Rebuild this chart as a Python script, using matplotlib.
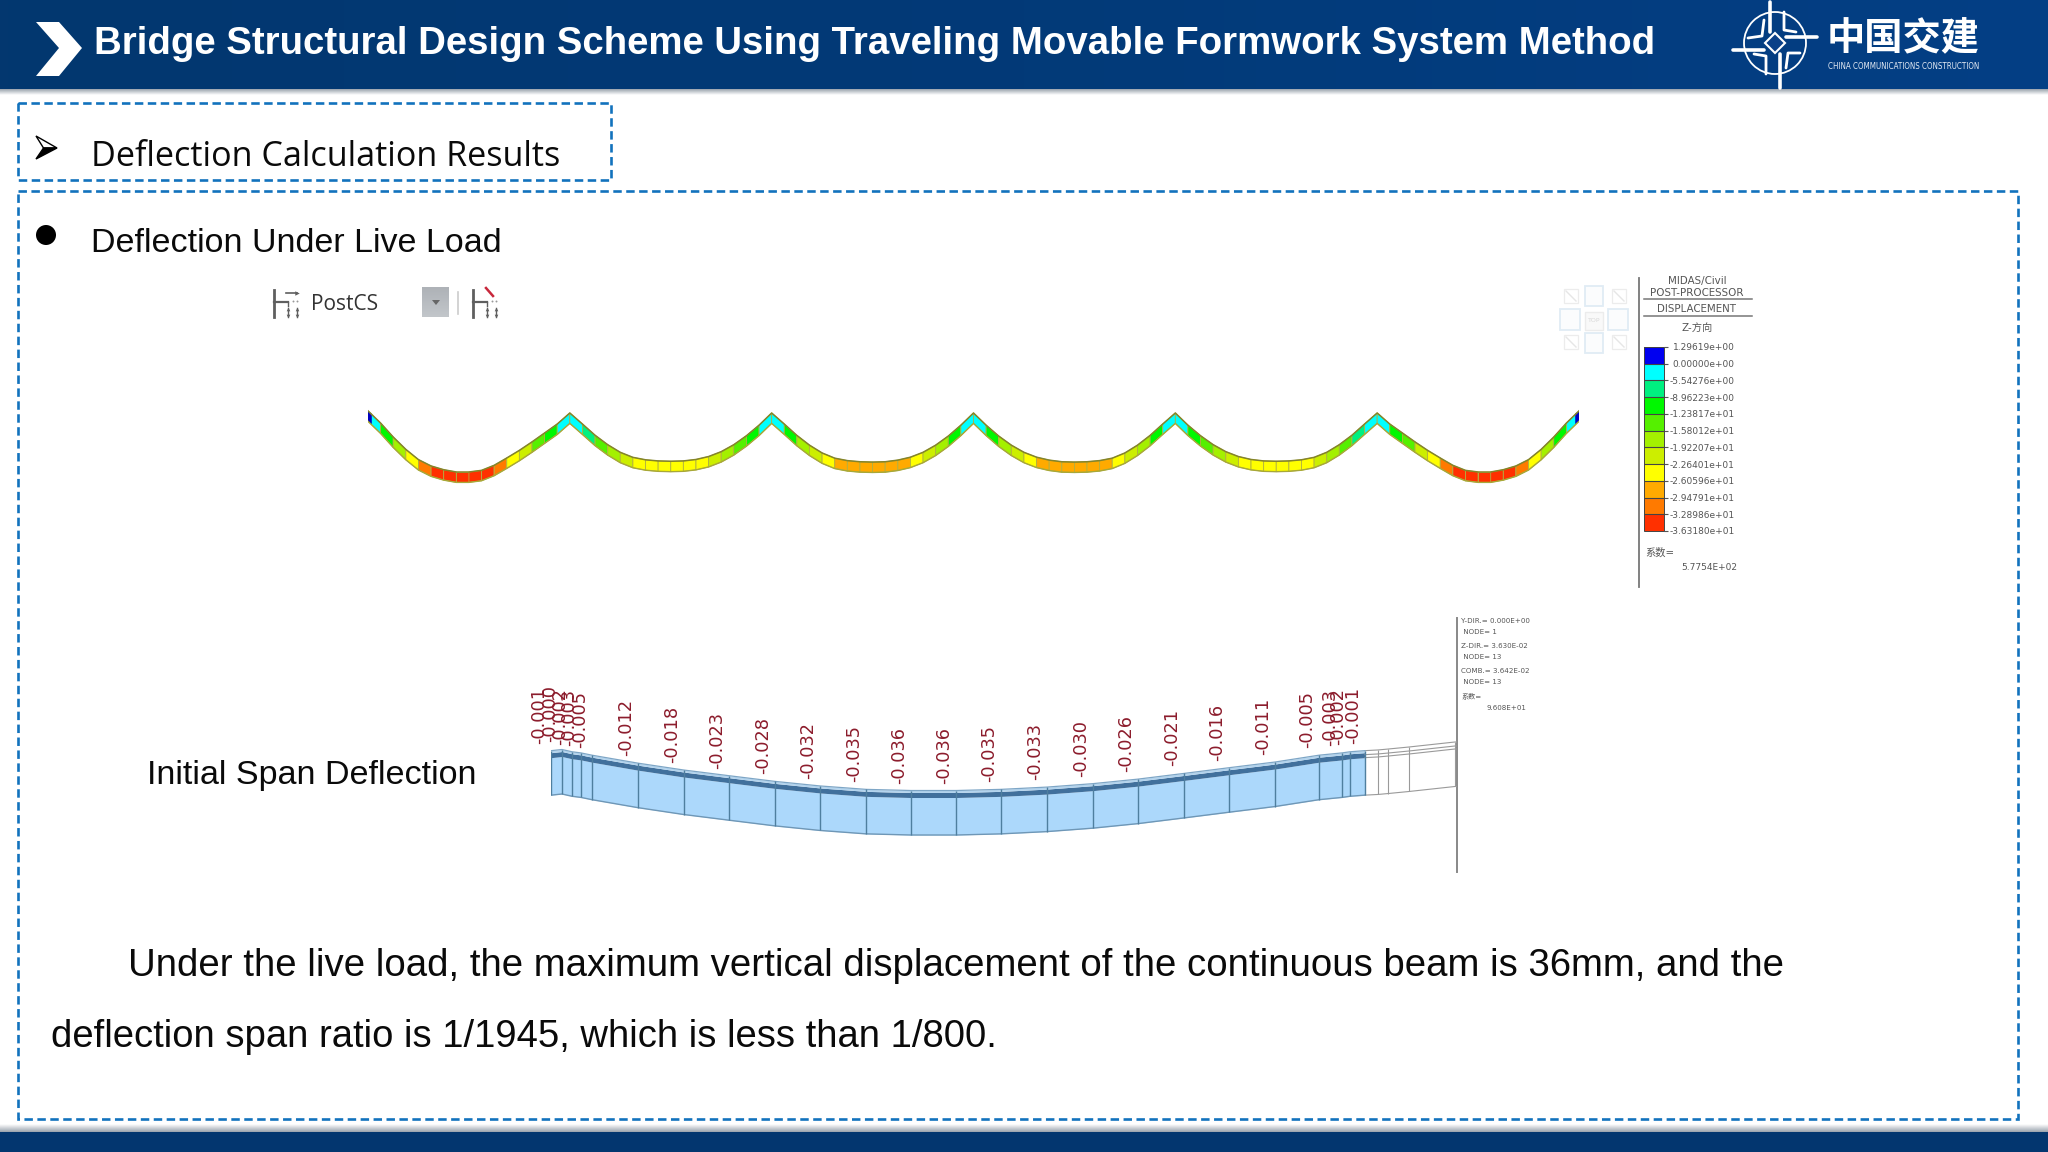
import numpy as np
import matplotlib
matplotlib.use("Agg")
import matplotlib.pyplot as plt
from matplotlib.collections import PolyCollection
from matplotlib.colors import ListedColormap, BoundaryNorm, LinearSegmentedColormap
from matplotlib.cm import ScalarMappable
from matplotlib.patches import Rectangle, Polygon, Circle

# ---------- data ----------
TITLE = "Bridge Structural Design Scheme Using Traveling Movable Formwork System Method"
HEADING = "Deflection Calculation Results"
SUBHEADING = "Deflection Under Live Load"
SPAN_LABEL = "Initial Span Deflection"
BODY_1 = "Under the live load, the maximum vertical displacement of the continuous beam is 36mm, and the"
BODY_2 = "deflection span ratio is 1/1945, which is less than 1/800."

# displacement contour (mm) at the 17 mesh nodes of each span
SPAN_NODES_M = [0, 6, 12, 18, 24, 30, 36, 42, 48, 54, 60, 66, 72, 78, 84, 90, 96]
SPAN_1 = [1.3, -6.2, -14.8, -22.4, -28.7, -32.6, -34.9, -36.3, -36.3, -35.3, -32.2, -27.7, -23.0, -17.8, -12.3, -6.8, 0.0]
SPAN_2 = [0.0, -6.8, -13.7, -19.5, -24.2, -27.3, -28.8, -29.5, -29.7, -29.5, -28.6, -26.8, -23.8, -19.5, -14.0, -7.5, 0.0]
SPAN_3 = [0.0, -6.8, -13.8, -19.8, -24.6, -27.8, -29.3, -30.0, -30.2, -30.0, -29.0, -27.2, -24.2, -19.8, -14.2, -7.5, 0.0]
SPAN_4 = [0.0, -7.5, -14.2, -19.8, -24.2, -27.2, -29.0, -30.0, -30.2, -30.0, -29.3, -27.8, -24.6, -19.8, -13.8, -6.8, 0.0]
SPAN_5 = [0.0, -7.5, -14.0, -19.5, -23.8, -26.8, -28.6, -29.5, -29.7, -29.5, -28.8, -27.3, -24.2, -19.5, -13.7, -6.8, 0.0]
SPAN_6 = [0.0, -6.8, -12.3, -17.8, -23.0, -27.7, -32.2, -35.3, -36.3, -36.3, -34.9, -32.6, -28.7, -22.4, -14.8, -6.2, 1.3]
SPANS = [SPAN_1, SPAN_2, SPAN_3, SPAN_4, SPAN_5, SPAN_6]
CONTOUR_FACTOR = [1.0, 0.87, 0.95, 0.95, 0.87, 1.0]

LEVELS = [-36.3180, -32.8986, -29.4791, -26.0596, -22.6401, -19.2207, -15.8012,
          -12.3817, -8.96223, -5.54276, 0.0, 1.29619]
LEVEL_LABELS = ["-3.63180e+01", "-3.28986e+01", "-2.94791e+01", "-2.60596e+01", "-2.26401e+01",
                "-1.92207e+01", "-1.58012e+01", "-1.23817e+01", "-8.96223e+00", "-5.54276e+00",
                "0.00000e+00", "1.29619e+00"]
LEVEL_COLORS = ["#ff3000", "#ff7a00", "#ffaa00", "#ffff00", "#ccee00", "#a4f000",
                "#55f000", "#00f800", "#00f080", "#00ffff", "#0000f0"]
LEGEND_HEAD = ["MIDAS/Civil", "POST-PROCESSOR", "DISPLACEMENT", "Z-方向"]

# initial span deflection diagram (m)
STATIONS_M = [0, 1.12, 2.19, 3.14, 4.31, 9.19, 14.03, 18.84, 23.72, 28.5, 33.38, 38.12,
              42.97, 47.7, 52.58, 57.43, 62.24, 67.12, 71.89, 76.77, 81.44, 83.88, 84.73, 86.32]
DEFLECTION = [-0.001, -0.000, -0.002, -0.003, -0.005, -0.012, -0.018, -0.023, -0.028, -0.032,
              -0.035, -0.036, -0.036, -0.035, -0.033, -0.030, -0.026, -0.021, -0.016, -0.011,
              -0.005, -0.003, -0.002, -0.001]
NEXT_STATIONS_M = [86.32, 87.7, 88.76, 90.99, 95.87, 96.08]
NEXT_DEFLECTION = [-0.001, -0.0004, 0.0004, 0.0022, 0.0066, 0.0066]
INFO_LINES = ["Y-DIR.= 0.000E+00", " NODE= 1", "Z-DIR.= 3.630E-02", " NODE= 13",
              "COMB.= 3.642E-02", " NODE= 13", "系数="]
INFO_SCALE = "9.608E+01"
LEGEND_SCALE = "5.7754E+02"

# ---------- figure ----------
W, H = 2048, 1152
fig = plt.figure(figsize=(W / 100, H / 100), dpi=100, facecolor="white")
plt.rcParams["font.family"] = ["Liberation Sans", "Noto Sans CJK SC", "DejaVu Sans"]
CJK = ["DejaVu Sans", "Noto Sans CJK SC"]
bg = fig.add_axes([0, 0, 1, 1])
bg.set_axis_off()
renderer = fig.canvas.get_renderer()


def px_axes(x0, x1, y0, y1):
    ax = fig.add_axes([x0 / W, 1 - y1 / H, (x1 - x0) / W, (y1 - y0) / H])
    ax.set_axis_off()
    ax.patch.set_alpha(0)
    return ax


def fit(x0, x1, y, s, **kw):
    t = bg.text(x0, y, s, ha="left", va="baseline", fontsize=20, **kw)
    w = t.get_window_extent(renderer).width
    t.set_fontsize(20 * (x1 - x0) / w)
    return t


# header and footer
head = LinearSegmentedColormap.from_list("h", ["#03376f", "#023a78", "#043f85"])
bg.imshow(np.linspace(0, 1, 256)[None, :], extent=(0, W, 89, 0), cmap=head, aspect="auto", zorder=1)
shadow = LinearSegmentedColormap.from_list("s", ["#9aa3ad", "#ffffff"])
bg.imshow(np.linspace(0, 1, 32)[:, None], extent=(0, W, 95, 89), cmap=shadow, aspect="auto", zorder=1)
bg.imshow(np.linspace(1, 0, 32)[:, None], extent=(0, W, 1132, 1124), cmap=shadow, aspect="auto", zorder=1)
bg.add_patch(Rectangle((0, 1132), W, 20, fc="#03366f", ec="none", zorder=2))
bg.set_xlim(0, W)
bg.set_ylim(H, 0)

bg.add_patch(Polygon([(36, 22), (59, 22), (82, 48), (59, 76), (36, 76), (59, 48)], fc="white", ec="none", zorder=3))
fit(94, 1652, 54, TITLE, color="white", fontweight="bold", zorder=3)

# logo
for p in [((1770, 2), (1770, 32)), ((1780, 88), (1780, 54)), ((1733, 50), (1764, 50)), ((1786, 37), (1817, 37))]:
    bg.plot(*zip(*p), color="white", lw=2.6, solid_capstyle="round", zorder=3)
for p in [((1784, 12), (1784, 30), (1796, 32)), ((1766, 74), (1766, 56), (1754, 54)),
          ((1748, 38), (1762, 36), (1764, 20)), ((1800, 53), (1788, 53), (1786, 68))]:
    bg.plot(*zip(*p), color="white", lw=2.0, solid_capstyle="round", zorder=3)
bg.add_patch(Circle((1775, 43), 31, fc="none", ec="white", lw=1.3, zorder=3))
bg.add_patch(Polygon([(1775, 33), (1785, 43), (1775, 53), (1765, 43)], fc="#0a4088", ec="white", lw=1.5, zorder=3))
fit(1827, 1980, 50, "中国交建", color="white", family=["Noto Sans CJK SC"], fontweight="bold", zorder=3)
fit(1828, 1978, 69, "CHINA COMMUNICATIONS CONSTRUCTION", color="#e6ecf5",
    family=["DejaVu Sans"], stretch="condensed", zorder=3)

# dashed frames
for x, y, w, h in [(18, 103, 593, 77), (18, 191, 2000, 928)]:
    bg.add_patch(Rectangle((x, y), w, h, fc="none", ec="#1272bd", lw=1.9,
                           linestyle=(0, (3.2, 1.7)), zorder=3))

# headings
bg.add_patch(Polygon([(36, 136), (57, 148), (43.5, 148)], fc="white", ec="black", lw=1.0))
bg.add_patch(Polygon([(36, 159), (57, 148), (43.5, 148)], fc="black", ec="black", lw=1.0))
fit(91, 561, 166, HEADING, color="#0a0a0a", family=["Open Sans"])
bg.add_patch(Circle((46, 235), 10, fc="black", ec="none"))
fit(91, 500, 252, SUBHEADING, color="#0a0a0a")
fit(147, 476, 784, SPAN_LABEL, color="#0a0a0a")
fit(128, 1778, 976, BODY_1, color="#0a0a0a")
fit(51, 998, 1047, BODY_2, color="#0a0a0a")


# toolbar strip
def h_icon(x0, red=False):
    g = "#5f5f5f"
    bg.plot([x0 + 2, x0 + 2], [290, 317], color=g, lw=2.0)
    bg.plot([x0 + 2, x0 + 16], [302, 302], color=g, lw=1.6)
    bg.plot([x0 + 16, x0 + 16], [302, 306], color=g, lw=1.0)
    for xx in (x0 + 16, x0 + 25):
        bg.plot([xx, xx], [308, 317], color=g, lw=1.0)
        bg.plot([xx], [309], marker="^", ms=2.6, color=g, mec="none")
        bg.plot([xx], [316], marker="v", ms=2.6, color=g, mec="none")
    bg.plot([x0 + 21, x0 + 25], [301, 301], ls="none", marker="o", ms=1.4, color="#999999", mec="none")
    if red:
        bg.plot([x0 + 15, x0 + 22], [288, 296], color="#c8283c", lw=1.8)
    else:
        bg.plot([x0 + 14, x0 + 25], [293, 293], color=g, lw=1.2)
        bg.plot([x0 + 25], [293], marker=">", ms=3.2, color=g, mec="none")


h_icon(272)
h_icon(471, red=True)
fit(311, 378, 310, "PostCS", color="#333333", family=["Open Sans"])
box = LinearSegmentedColormap.from_list("b", ["#aeb2b7", "#c2c6ca"])
bg.imshow(np.linspace(0, 1, 32)[:, None], extent=(422, 449, 317, 287), cmap=box, aspect="auto", zorder=1)
bg.set_xlim(0, W)
bg.set_ylim(H, 0)
bg.add_patch(Polygon([(432, 300), (440, 300), (436, 305)], fc="#666666", ec="none", zorder=2))
bg.plot([458, 458], [292, 314], color="#cccccc", lw=1.2)

# view cube
for x, y, w, h in [(1585, 286, 18, 20), (1560, 309, 20, 21), (1608, 309, 20, 21), (1585, 333, 18, 20)]:
    bg.add_patch(Rectangle((x, y), w, h, fc="#fbfcfd", ec="#e0ecf5", lw=1.3))
bg.add_patch(Rectangle((1585, 312), 18, 18, fc="#f9f9f9", ec="#ececec", lw=1))
bg.text(1594, 321, "TOP", ha="center", va="center", fontsize=4.5, color="#d8d8d8", family=["DejaVu Sans"])
for x, y in [(1564, 289), (1612, 289), (1564, 335), (1612, 335)]:
    bg.add_patch(Rectangle((x, y), 14, 14, fc="none", ec="#ececec", lw=0.9))
    bg.plot([x + 2, x + 12], [y + 2, y + 12], color="#e6e6e6", lw=1)

# ---------- contour of the continuous beam ----------
cmap = ListedColormap(LEVEL_COLORS)
norm = BoundaryNorm(LEVELS, cmap.N)
con = px_axes(368, 1579, 400, 500)
PX_PER_MM = 1.625
BEAM_MM = 6.4
con.set_xlim(0, 6 * 96)
con.set_ylim(-(500 - 413) / PX_PER_MM, (413 - 400) / PX_PER_MM)
polys, vals = [], []
top_x, top_y = [], []
for k, span in enumerate(SPANS):
    s = np.array(SPAN_NODES_M, float) + 96 * k
    d = np.array(span, float)
    top_x.extend(s)
    top_y.extend(d)
    for i in range(len(s) - 1):
        polys.append([(s[i], d[i]), (s[i + 1], d[i + 1]), (s[i + 1], d[i + 1] - BEAM_MM), (s[i], d[i] - BEAM_MM)])
        vals.append(0.5 * (d[i] + d[i + 1]) * CONTOUR_FACTOR[k])
con.add_collection(PolyCollection(polys, array=np.array(vals), cmap=cmap, norm=norm,
                                  edgecolors="#b0b040", linewidths=0.6))
con.plot(top_x, top_y, color="#84842a", lw=1.1, solid_joinstyle="round")
con.plot(top_x, np.array(top_y) - BEAM_MM, color="#a8a838", lw=1.0, solid_joinstyle="round")
con.add_patch(Polygon([(0, 1.3), (1.8, -0.5), (1.8, -6.9), (0, -5.1)], fc="#0000c0", ec="none"))
con.add_patch(Polygon([(576, 1.3), (574.2, -0.5), (574.2, -6.9), (576, -5.1)], fc="#0000c0", ec="none"))

# legend
bg.plot([1639, 1639], [278, 587], color="#777777", lw=1.3)
LEGEND_KW = dict(color="#555555", family=CJK, fontsize=6.5)
HEAD_KW = dict(color="#555555", family=CJK, fontsize=7.4)
bg.text(1697, 281, LEGEND_HEAD[0], ha="center", va="center", **HEAD_KW)
bg.text(1697, 293, LEGEND_HEAD[1], ha="center", va="center", **HEAD_KW)
bg.plot([1644, 1752], [299, 299], color="#777777", lw=1.1)
bg.text(1697, 309, LEGEND_HEAD[2], ha="center", va="center", **HEAD_KW)
bg.plot([1644, 1752], [316, 316], color="#777777", lw=1.1)
bg.text(1697, 328, LEGEND_HEAD[3], ha="center", va="center", **HEAD_KW)
cax = fig.add_axes([1644 / W, 1 - 531 / H, 20 / W, 184 / H])
cb = fig.colorbar(ScalarMappable(norm=norm, cmap=cmap), cax=cax, ticks=LEVELS, spacing="uniform", drawedges=True)
cb.ax.set_yticklabels(LEVEL_LABELS, ha="right", family=CJK, color="#555555", fontsize=6.5)
cb.ax.tick_params(length=3, width=0.8, color="#555555", pad=48, which="major")
cb.ax.minorticks_off()
cb.outline.set_edgecolor("#444444")
cb.outline.set_linewidth(0.7)
cb.dividers.set_color("#444444")
cb.dividers.set_linewidth(0.8)
bg.text(1645, 553, "系数=", ha="left", va="center", **HEAD_KW)
bg.text(1737, 568, LEGEND_SCALE, ha="right", va="center", **LEGEND_KW)

# ---------- initial span deflection diagram ----------
PX_PER_M = 1139.0
dia = px_axes(551.4, 1457, 700, 850)
dia.set_xlim(0, 96.08)
dia.set_ylim(-(850 - 749.5) / PX_PER_M, (749.5 - 700) / PX_PER_M)
s = np.array(STATIONS_M)
d = np.array(DEFLECTION)
DEPTH = 44.5 / PX_PER_M
B1, B2 = 2.0 / PX_PER_M, 7.0 / PX_PER_M
dia.fill_between(s, d - B2, d - DEPTH, color="#acd8fb", lw=0, zorder=1)
dia.fill_between(s, d - B1, d - B2, color="#41709c", lw=0, zorder=2)
dia.fill_between(s, d, d - B1, color="#b3d4ee", lw=0, zorder=2)
dia.plot(s, d, color="#7ea6c6", lw=0.9, zorder=3)
dia.plot(s, d - DEPTH, color="#6f97b6", lw=1.0, zorder=3)
dia.vlines(s, d, d - DEPTH, color="#4f7f9f", lw=1.0, zorder=3)
for xi, di in zip(STATIONS_M, DEFLECTION):
    dia.annotate("-0.000" if di == 0 else f"{di:.3f}",
                 (xi, di), xytext=(-12, 7), textcoords="offset pixels",
                 ha="center", va="bottom", rotation=90, fontsize=12.8,
                 color="#8c1c2c", family=["DejaVu Sans"], zorder=4, annotation_clip=False)
ns = np.array(NEXT_STATIONS_M)
nd = np.array(NEXT_DEFLECTION)
for off in [0, 4 / PX_PER_M, 7 / PX_PER_M, DEPTH]:
    dia.plot(ns, nd - off, color="#9a9a9a", lw=0.8, zorder=2)
dia.vlines(ns[1:], nd[1:], nd[1:] - DEPTH, color="#9a9a9a", lw=0.8, zorder=2)

# info column
bg.plot([1457, 1457], [618, 872], color="#888888", lw=1.4, zorder=3)
INFO_KW = dict(ha="left", va="center", fontsize=5.1, color="#555555", family=CJK)
for yy, line in zip([621, 632, 646, 657, 671, 682, 696], INFO_LINES):
    bg.text(1461, yy, line, **INFO_KW)
bg.text(1526, 708, INFO_SCALE, ha="right", va="center", fontsize=5.1, color="#555555", family=CJK)

fig.savefig("out.png", dpi=100)
